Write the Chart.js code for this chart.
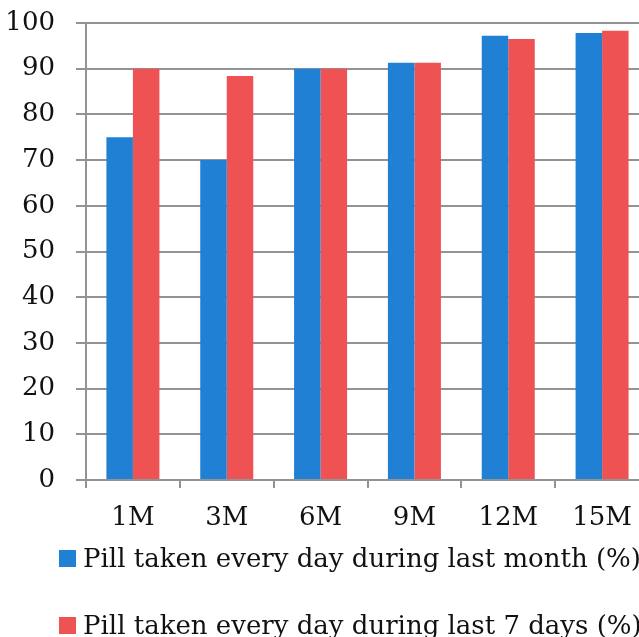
<!DOCTYPE html>
<html>
<head>
<meta charset="utf-8">
<script src="https://cdn.jsdelivr.net/npm/chart.js@4/dist/chart.umd.min.js"></script>
<style>
  html, body { margin: 0; padding: 0; background: #ffffff; overflow: hidden; }
  #wrap { width: 639px; height: 637px; overflow: hidden; position: relative; }
  #chart { display: block; }
</style>
</head>
<body>
<div id="wrap"><canvas id="chart" width="649" height="637"></canvas></div>
<script>
// Follow-up visits
const categories = ['1M', '3M', '6M', '9M', '12M', '15M'];

// Adherence, percent of patients
const lastMonth = [75, 70, 90, 91.3, 97.2, 97.8];
const last7Days = [90, 88.4, 90, 91.3, 96.5, 98.3];

const seriesNames = [
  'Pill taken every day during last month (%)',
  'Pill taken every day during last 7 days (%)'
];

const yTicks = [0, 10, 20, 30, 40, 50, 60, 70, 80, 90, 100];

const FONT = 'DejaVu Serif';
const AXIS_GREY = '#939393';

// Legend listed one series per line under the axis
const stackedLegend = {
  id: 'stackedLegend',
  afterDraw(chart) {
    const ctx = chart.ctx;
    const xs = chart.scales.x;
    const baseY = xs.bottom + 33;
    ctx.save();
    ctx.font = '26px "' + FONT + '"';
    ctx.textBaseline = 'alphabetic';
    ctx.textAlign = 'left';
    chart.data.datasets.forEach((ds, i) => {
      const y = baseY + i * 67;
      ctx.fillStyle = ds.backgroundColor;
      ctx.fillRect(59, y - 17, 17, 17);
      ctx.fillStyle = '#111111';
      ctx.fillText(ds.label, 83, y);
    });
    ctx.restore();
  }
};

new Chart(document.getElementById('chart'), {
  type: 'bar',
  data: {
    labels: categories,
    datasets: [
      {
        label: seriesNames[0],
        data: lastMonth,
        backgroundColor: '#1f80d4',
        borderWidth: 0
      },
      {
        label: seriesNames[1],
        data: last7Days,
        backgroundColor: '#ef5252',
        borderWidth: 0
      }
    ]
  },
  options: {
    responsive: false,
    animation: false,
    events: [],
    layout: { padding: { top: 23, right: 0, bottom: 103, left: 0 } },
    datasets: {
      bar: { categoryPercentage: 0.565, barPercentage: 1.0 }
    },
    plugins: {
      legend: { display: false },
      tooltip: { enabled: false }
    },
    scales: {
      x: {
        afterFit(scale) { scale.height = 54; scale.paddingLeft = 0; scale.paddingRight = 0; },
        grid: {
          display: true,
          drawOnChartArea: false,
          drawTicks: true,
          tickLength: 8,
          color: AXIS_GREY,
          lineWidth: 2,
          offset: true
        },
        border: { display: true, color: AXIS_GREY, width: 2 },
        ticks: {
          color: '#111111',
          padding: 15,
          font: { family: FONT, size: 26 }
        }
      },
      y: {
        min: 0,
        max: 100,
        afterFit(scale) { scale.width = 86; scale.paddingTop = 0; scale.paddingBottom = 0; },
        afterBuildTicks(scale) { scale.ticks = yTicks.map(v => ({ value: v })); },
        grid: {
          color: AXIS_GREY,
          lineWidth: 2,
          tickLength: 10
        },
        border: { display: true, color: AXIS_GREY, width: 2 },
        ticks: {
          color: '#111111',
          padding: 21,
          font: { family: FONT, size: 26 }
        }
      }
    }
  },
  plugins: [stackedLegend]
});
</script>
</body>
</html>
